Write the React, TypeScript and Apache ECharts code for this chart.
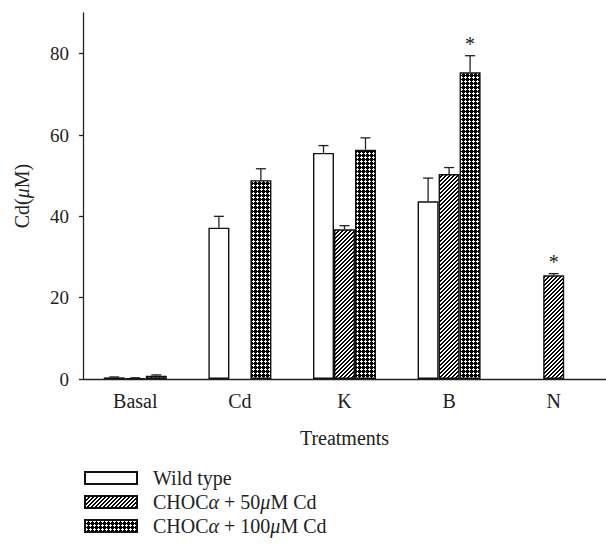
import React, { useEffect, useRef } from "react";
import * as echarts from "echarts";

const categories = ["Basal", "Cd", "K", "B", "N"];
const seriesNames = ["Wild type", "CHOCα + 50μM Cd", "CHOCα + 100μM Cd"];
const wildType: (number | null)[] = [0.4, 37.2, 55.6, 43.7, null];
const choc50: (number | null)[] = [0.2, null, 36.8, 50.4, 25.5];
const choc100: (number | null)[] = [0.8, 48.9, 56.4, 75.4, null];
const wildTypeErr: (number | null)[] = [0.1, 2.8, 1.8, 5.7, null];
const choc50Err: (number | null)[] = [0.1, null, 0.9, 1.6, 0.4];
const choc100Err: (number | null)[] = [0.2, 2.8, 2.9, 4.1, null];
const significant: [number, number][] = [
  [3, 2],
  [4, 1],
];
const yTicks = { min: 0, max: 90, interval: 20 };

const FONT = "'Liberation Serif', 'DejaVu Serif', serif";
const BAR_W = 21;

function makeHatch(): string {
  const c = document.createElement("canvas");
  c.width = 4;
  c.height = 4;
  const ctx = c.getContext("2d")!;
  ctx.fillStyle = "#fff";
  ctx.fillRect(0, 0, 4, 4);
  ctx.fillStyle = "#000";
  for (let x = 0; x < 4; x++) {
    for (let y = 0; y < 4; y++) {
      const k = (x + y) % 4;
      if (k === 0 || k === 1) ctx.fillRect(x, y, 1, 1);
    }
  }
  return c.toDataURL();
}

function makeCheck(): string {
  const c = document.createElement("canvas");
  c.width = 4;
  c.height = 4;
  const ctx = c.getContext("2d")!;
  ctx.fillStyle = "#000";
  ctx.fillRect(0, 0, 4, 4);
  ctx.fillStyle = "#fff";
  ctx.fillRect(1, 0, 1, 3);
  ctx.fillRect(0, 1, 3, 1);
  return c.toDataURL();
}

export default function App() {
  const ref = useRef<HTMLDivElement>(null);
  useEffect(() => {
    if (!ref.current) return;
    const chart = echarts.init(ref.current, null, { renderer: "svg" });
    const hatch = { image: makeHatch(), repeat: "repeat", imageWidth: 4, imageHeight: 4 };
    const check = { image: makeCheck(), repeat: "repeat", imageWidth: 4, imageHeight: 4 };
    const fills: any[] = ["#fff", hatch, check];
    const values = [wildType, choc50, choc100];
    const errs = [wildTypeErr, choc50Err, choc100Err];
    const offsets = [-BAR_W, 0, BAR_W];

    const barSeries = values.map((vals, s) => ({
      type: "bar",
      name: seriesNames[s],
      data: vals.map((v) => (v == null ? "-" : v)),
      barWidth: BAR_W,
      barGap: "0%",
      itemStyle: { color: fills[s], borderColor: "#111", borderWidth: 1.4 },
      emphasis: { disabled: true },
    }));

    const errData: number[][] = [];
    errs.forEach((arr, s) => {
      arr.forEach((e, i) => {
        const v = values[s][i];
        if (v != null && e != null) errData.push([i, v, v + e, s]);
      });
    });

    const errSeries = {
      type: "custom",
      name: "err",
      data: errData,
      z: 3,
      silent: true,
      renderItem: (params: any, api: any) => {
        const i = api.value(0);
        const s = api.value(3);
        const base = api.coord([i, api.value(1)]);
        const top = api.coord([i, api.value(2)]);
        const x = base[0] + offsets[s];
        return {
          type: "group",
          children: [
            {
              type: "line",
              shape: { x1: x, y1: base[1], x2: x, y2: top[1] },
              style: { stroke: "#222", lineWidth: 1.3 },
            },
            {
              type: "line",
              shape: { x1: x - 5, y1: top[1], x2: x + 5, y2: top[1] },
              style: { stroke: "#222", lineWidth: 1.3 },
            },
          ],
        };
      },
    };

    const starData = significant.map(([i, s]) => {
      const v = values[s][i] as number;
      const e = (errs[s][i] as number) || 0;
      return [i, v + e, s];
    });

    const starSeries = {
      type: "custom",
      name: "star",
      data: starData,
      z: 4,
      silent: true,
      renderItem: (params: any, api: any) => {
        const i = api.value(0);
        const s = api.value(2);
        const p = api.coord([i, api.value(1)]);
        return {
          type: "text",
          x: p[0] + offsets[s],
          y: p[1] - 2,
          style: {
            text: "*",
            fill: "#222",
            font: `20px ${FONT}`,
            align: "center",
            verticalAlign: "bottom",
          },
        };
      },
    };

    const richItalic = { i: { fontFamily: FONT, fontSize: 20, fontStyle: "italic", color: "#222" } };

    chart.setOption({
      animation: false,
      backgroundColor: "#fff",
      textStyle: { fontFamily: FONT },
      grid: { left: 83, top: 13, width: 525, height: 366 },
      legend: {
        orient: "vertical",
        left: 84,
        top: 468,
        padding: 0,
        icon: "rect",
        itemWidth: 52,
        itemHeight: 12,
        itemGap: 4,
        data: seriesNames,
        formatter: (name: string) => name.replace("α", "{i|α}").replace("μ", "{i|μ}"),
        textStyle: {
          fontFamily: FONT,
          fontSize: 20,
          color: "#222",
          padding: [0, 0, 0, 11],
          rich: richItalic,
        },
        selectedMode: false,
      },
      xAxis: {
        type: "category",
        data: categories,
        boundaryGap: true,
        name: "Treatments",
        nameLocation: "middle",
        nameGap: 49,
        nameTextStyle: { fontFamily: FONT, fontSize: 20, color: "#222" },
        axisLine: { lineStyle: { color: "#222", width: 1.3 } },
        axisTick: { alignWithLabel: true, length: 4, lineStyle: { color: "#222", width: 1.3 } },
        axisLabel: { fontFamily: FONT, fontSize: 20, color: "#222", margin: 12 },
        splitLine: { show: false },
      },
      yAxis: {
        type: "value",
        min: yTicks.min,
        max: yTicks.max,
        interval: yTicks.interval,
        name: "Cd({i|μ}M)",
        nameLocation: "middle",
        nameRotate: 90,
        nameGap: 51,
        nameTextStyle: {
          fontFamily: FONT,
          fontSize: 20,
          color: "#222",
          rich: richItalic,
        },
        axisLine: { show: true, lineStyle: { color: "#222", width: 1.3 } },
        axisTick: { show: true, length: 4, lineStyle: { color: "#222", width: 1.3 } },
        axisLabel: {
          fontFamily: FONT,
          fontSize: 19,
          color: "#222",
          margin: 14,
          showMaxLabel: false,
          formatter: (v: number) => (v > 80 ? "" : String(v)),
        },
        splitLine: { show: false },
      },
      series: [...barSeries, errSeries, starSeries],
    });
    return () => chart.dispose();
  }, []);
  return (
    <div
      ref={ref}
      style={{ position: "fixed", left: 0, top: 0, width: 606, height: 546, background: "#fff" }}
    />
  );
}
